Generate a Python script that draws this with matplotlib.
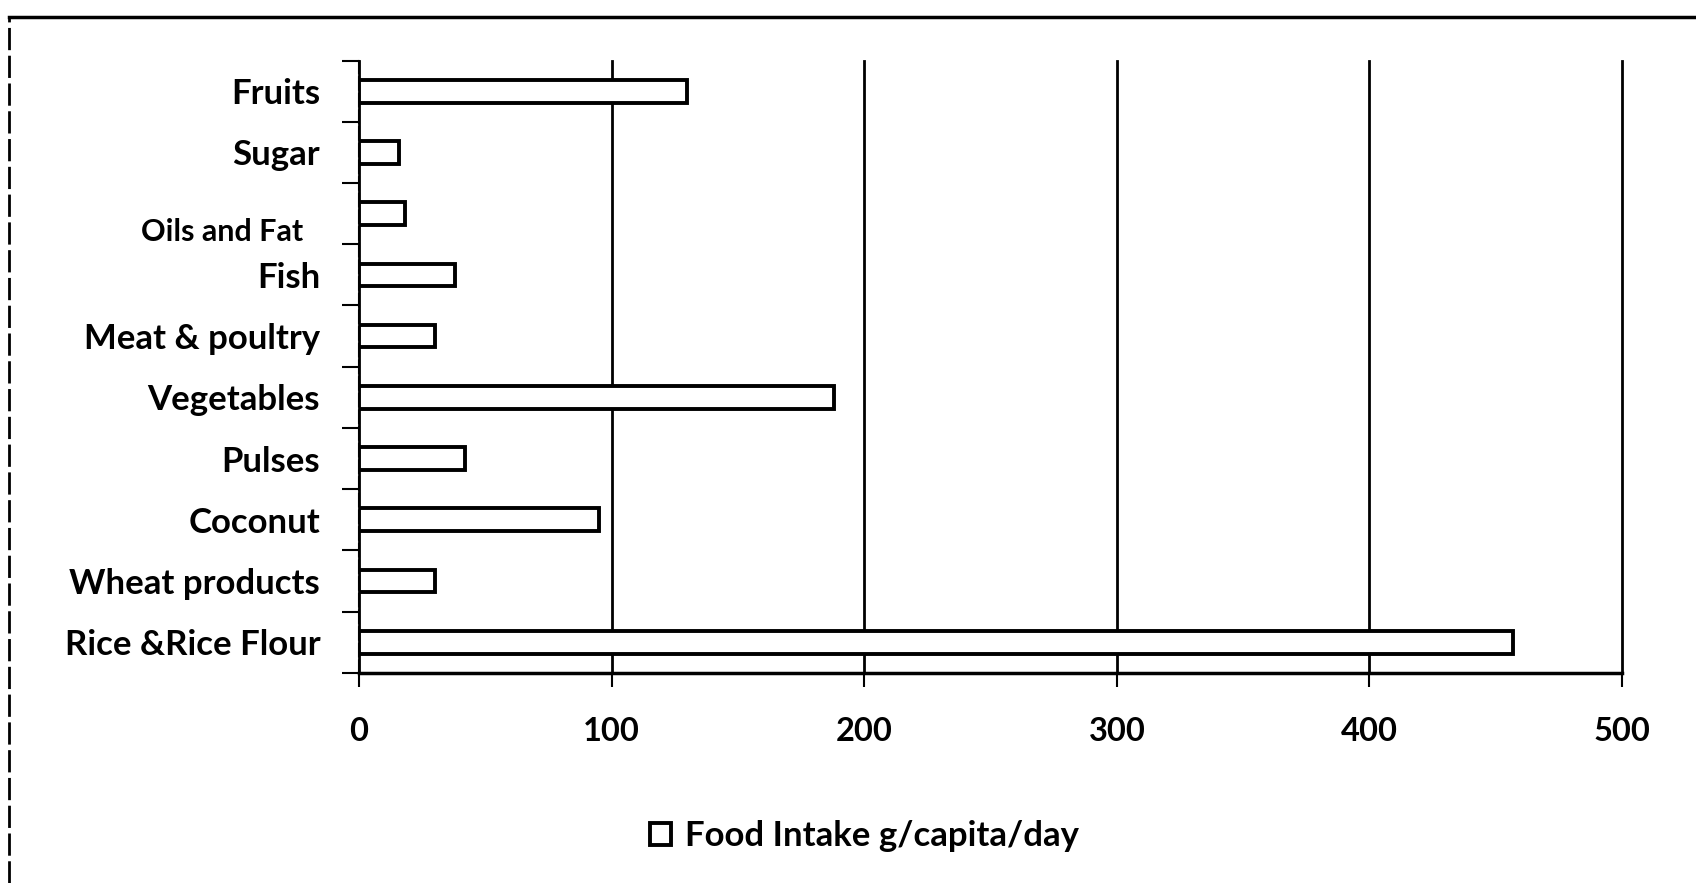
import matplotlib.pyplot as plt
import matplotlib.transforms as mtransforms
from matplotlib.lines import Line2D
import numpy as np

# food groups, listed bottom to top as drawn
foods = ["Rice &Rice Flour", "Wheat products", "Coconut", "Pulses", "Vegetables",
         "Meat & poultry", "Fish", "Oils and Fat", "Sugar", "Fruits"]
intake = [457, 30, 95, 42, 188, 30, 38, 18, 16, 130]
xticks = [0, 100, 200, 300, 400, 500]
series_name = "Food Intake g/capita/day"

plt.rcParams['font.family'] = ['Lato', 'DejaVu Sans']
plt.rcParams['font.weight'] = 'bold'

fig = plt.figure(figsize=(16.96, 8.83), dpi=100)
ax = fig.add_axes([0.2117, 0.238, 0.9564 - 0.2117, 0.9314 - 0.238])

y = np.arange(len(foods))
bars = ax.barh(y, intake, height=0.37, color='white', edgecolor='black',
               linewidth=2.8, label=series_name, zorder=3)

ax.set_xlim(0, 500)
ax.set_ylim(-0.5, len(foods) - 0.5)
ax.set_xticks(xticks)
ax.set_xticklabels([str(t) for t in xticks], fontsize=23.5, fontweight='bold')
ax.tick_params(axis='x', length=10, width=1.5, pad=22, direction='out')

# category boundaries carry the ticks, labels sit at the centres
ax.set_yticks(np.arange(len(foods) + 1) - 0.5)
ax.set_yticklabels([])
ax.tick_params(axis='y', which='major', length=12, width=1.5, direction='out')
ax.set_yticks(y, minor=True)
ax.set_yticklabels(foods, minor=True, fontsize=25, fontweight='bold')
ax.tick_params(axis='y', which='minor', length=0, pad=28)

# the "Oils and Fat" label is smaller and sits lower in the original
oil_lbl = ax.get_yticklabels(minor=True)[foods.index("Oils and Fat")]
oil_lbl.set_fontsize(22)
oil_lbl.set_transform(oil_lbl.get_transform() +
                      mtransforms.ScaledTranslation(-0.17, -0.16, fig.dpi_scale_trans))

ax.grid(axis='x', color='black', linewidth=2, zorder=1)
for gl in ax.get_xgridlines():
    gl.set_clip_on(False)
for s in ['top', 'right']:
    ax.spines[s].set_visible(False)
ax.spines['left'].set_linewidth(1.5)
ax.spines['left'].set_linestyle((0, (6, 2)))
ax.spines['bottom'].set_linewidth(2.5)

ax.legend(handles=[bars], loc='upper center', bbox_to_anchor=(0.40, -0.19),
          frameon=False, handlelength=0.6, handleheight=0.6,
          handletextpad=0.4, prop={'weight': 'bold', 'size': 25})

# outer frame of the scanned chart (top and left edges only)
fig.add_artist(Line2D([0.0053, 1.0], [1 - 17 / 883, 1 - 17 / 883],
                      transform=fig.transFigure, color='black', linewidth=2.5))
fig.add_artist(Line2D([0.0053, 0.0053], [0.0, 1 - 17 / 883],
                      transform=fig.transFigure, color='black', linewidth=2,
                      linestyle=(0, (8, 2))))

plt.savefig("out.png", dpi=100)
